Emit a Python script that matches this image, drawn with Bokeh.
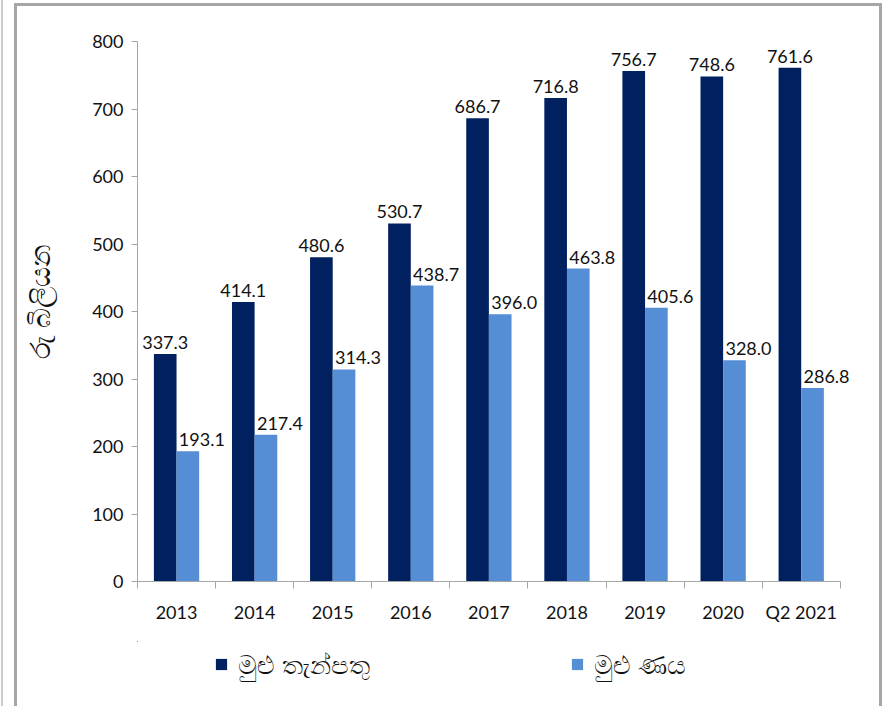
import numpy as np
from bokeh.plotting import figure
from bokeh.layouts import column
from bokeh.models import ColumnDataSource, Range1d, FixedTicker, Legend, LegendItem
from bokeh.core.properties import value
from bokeh.embed import file_html
from bokeh.resources import INLINE

# ---- data ----
categories = ["2013", "2014", "2015", "2016", "2017", "2018", "2019", "2020", "Q2 2021"]
deposits = [337.3, 414.1, 480.6, 530.7, 686.7, 716.8, 756.7, 748.6, 761.6]
loans = [193.1, 217.4, 314.3, 438.7, 396.0, 463.8, 405.6, 328.0, 286.8]
y_ticks = [0, 100, 200, 300, 400, 500, 600, 700, 800]
series_names = ["මුළු තැන්පතු", "මුළු ණය"]
y_title = "රු බිලියන"

DARK = "#002060"
LIGHT = "#558ED5"
NUM_FONT = "Lato"
SI_FONT = "Noto Sans"
BORDER = "#a6a6a6"

n = len(categories)
centers = np.arange(n) + 0.5
bw = 0.29

src = ColumnDataSource(dict(
    xd=centers - bw / 2, xl=centers + bw / 2,
    dep=deposits, loan=loans,
    dep_lbl=[f"{v:.1f}" for v in deposits],
    loan_lbl=[f"{v:.1f}" for v in loans],
))

W = 862
H1 = 635
H2 = 65

p = figure(width=W, height=H1, output_backend="svg", toolbar_location=None,
           x_range=Range1d(0, n + 0.4), y_range=Range1d(0, 830),
           min_border_left=119, min_border_right=8, min_border_top=15,
           min_border_bottom=H1 - 575)
p.outline_line_color = None
p.xgrid.grid_line_color = None
p.ygrid.grid_line_color = None
p.background_fill_color = "white"
p.border_fill_color = "white"

r_dep = p.vbar(x="xd", top="dep", width=bw, bottom=0, source=src,
               fill_color=DARK, line_color=None)
r_loan = p.vbar(x="xl", top="loan", width=bw, bottom=0, source=src,
                fill_color=LIGHT, line_color=None)

p.text(x="xd", y="dep", text="dep_lbl", source=src, text_align="center",
       text_baseline="bottom", y_offset=-5, text_font=value(NUM_FONT),
       text_font_size="18px", text_color="#111111")
p.text(x="xl", y="loan", text="loan_lbl", source=src, text_align="center",
       text_baseline="bottom", y_offset=-5, x_offset=14, text_font=value(NUM_FONT),
       text_font_size="18px", text_color="#111111")

# x axis: labels at centres, ticks at category boundaries
xa = p.xaxis[0]
xa.ticker = FixedTicker(ticks=list(centers), minor_ticks=list(np.arange(n + 1)))
xa.bounds = (0, n)
xa.major_label_overrides = {float(c): lab for c, lab in zip(centers, categories)}
xa.major_tick_line_color = None
xa.major_tick_out = 0
xa.major_tick_in = 0
xa.minor_tick_line_color = BORDER
xa.minor_tick_out = 7
xa.minor_tick_in = 0
xa.axis_line_color = BORDER
xa.major_label_standoff = 12
xa.major_label_text_font = NUM_FONT
xa.major_label_text_font_size = "18px"
xa.major_label_text_color = "#111111"

ya = p.yaxis[0]
ya.ticker = FixedTicker(ticks=y_ticks)
ya.bounds = (0, 800)
ya.axis_line_color = BORDER
ya.major_tick_line_color = BORDER
ya.major_tick_out = 6
ya.major_tick_in = 0
ya.minor_tick_line_color = None
ya.major_label_standoff = 8
ya.major_label_text_font = NUM_FONT
ya.major_label_text_font_size = "18px"
ya.major_label_text_color = "#111111"
ya.axis_label = y_title
ya.axis_label_text_font = SI_FONT
ya.axis_label_text_font_size = "28px"
ya.axis_label_text_font_style = "normal"
ya.axis_label_text_color = "#111111"
ya.axis_label_standoff = 31

# ---- legend strip below the chart (its frame lines up with the chart frame) ----
# zero-width bars kept far outside this strip's ranges: never visible,
# they only supply the legend swatches
lf = figure(width=W, height=H2, output_backend="svg", toolbar_location=None,
            x_axis_location=None, y_axis_location=None,
            min_border_left=0, min_border_right=0, min_border_top=0,
            min_border_bottom=0, x_range=Range1d(1000, 1001),
            y_range=Range1d(-2000, -1000))
lf.outline_line_color = None
lf.xgrid.grid_line_color = None
lf.ygrid.grid_line_color = None
lf.border_fill_color = "white"
l_dep = lf.vbar(x="xd", top="dep", width=0, bottom=0, source=src,
                fill_color=DARK, line_color=None)
l_loan = lf.vbar(x="xl", top="loan", width=0, bottom=0, source=src,
                 fill_color=LIGHT, line_color=None)

legend = Legend(items=[LegendItem(label=series_names[0], renderers=[l_dep]),
                       LegendItem(label=series_names[1], renderers=[l_loan])],
                orientation="horizontal", location=(77, 24),
                glyph_width=14, glyph_height=14, label_standoff=10, spacing=200,
                padding=0, margin=0, border_line_color=None,
                background_fill_alpha=0,
                label_text_font=SI_FONT, label_text_font_size="26px",
                label_text_color="#111111")
lf.add_layout(legend, "center")

inner = column(p, lf, spacing=0,
               styles={"border-left": f"3px solid {BORDER}",
                       "border-top": f"3px solid {BORDER}",
                       "border-right": f"3px solid {BORDER}",
                       "margin-left": "11px", "margin-top": "3px"})
outer = column(inner, spacing=0,
               styles={"border-left": "2px solid #cccccc", "margin-left": "1px"})

open("out.html", "w").write(file_html(outer, INLINE))
